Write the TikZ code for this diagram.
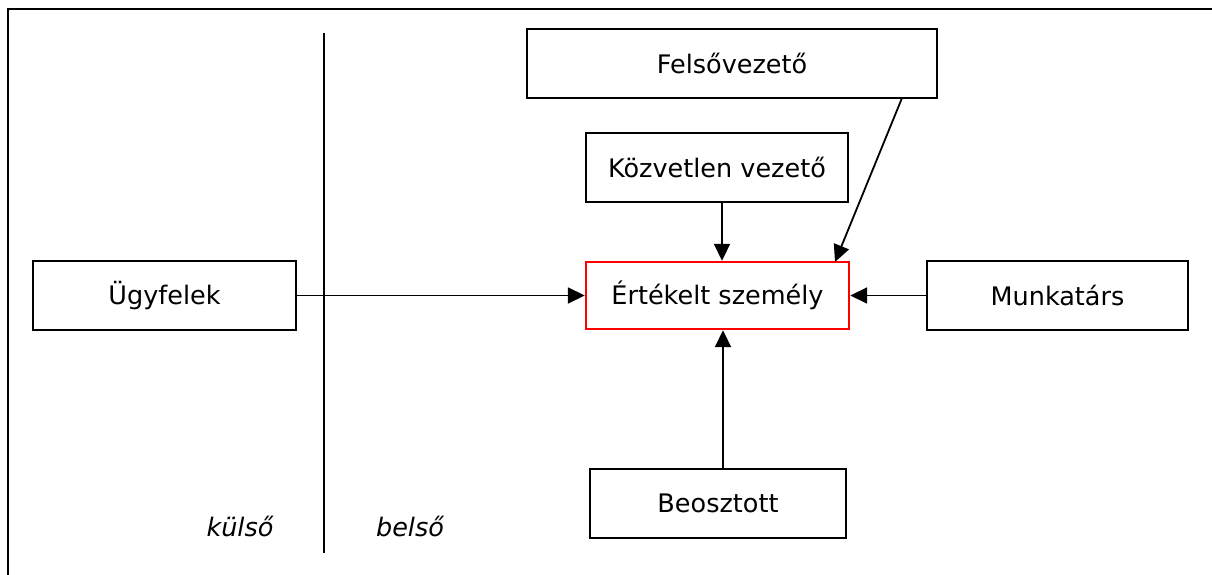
\documentclass[tikz,border=0pt]{standalone}
\usepackage{fontspec}
\setmainfont{DejaVu Sans}
\usetikzlibrary{arrows.meta}
\begin{document}
\begin{tikzpicture}[x=1pt,y=-1pt,
  box/.style={draw=black,line width=2.4pt,minimum height=69pt,inner sep=0pt,
    font=\fontsize{25.5}{30}\selectfont},
  focus/.style={box,draw=red},
  link/.style={line width=1.8pt,-{Triangle[length=17pt,width=16pt]}},
  side/.style={font=\fontsize{25.5}{30}\selectfont\itshape}]
\useasboundingbox (0,0) rectangle (1212,575);
% outer frame (only top and left edges fall inside the page)
\draw[line width=2.4pt] (8,590) -- (8,9) -- (1230,9);
% boundary between external and internal raters
\coordinate (divtop) at (324,33);
\coordinate (divbot) at (324,553);
\draw[line width=2pt] (divtop) -- (divbot);
% boxes
\node[box,minimum width=410pt] (felso) at (732,63.5) {Felsővezető};
\node[box,minimum width=262pt] (kozv) at (717,167.5) {Közvetlen vezető};
\node[focus,minimum width=263pt,minimum height=67pt] (ert) at (717.5,295.5) {Értékelt személy};
\node[box,minimum width=261pt] (munka) at (1057.5,295.5) {Munkatárs};
\node[box,minimum width=263pt] (ugyf) at (164.5,295.5) {Ügyfelek};
\node[box,minimum width=256pt] (beo) at (718,503.5) {Beosztott};
% side labels
\node[side] (kulso) at (240,526) {külső};
\node[side] (belso) at (410,526) {belső};
% connectors
\draw[link] (kozv.south -| 722,0) -- (ert.north -| 722,0);
\draw[link] (beo.north -| 723,0) -- (ert.south -| 723,0);
\draw[link] (munka.west) -- (ert.east);
\draw[link] (ugyf.east) -- (ert.west);
\coordinate (fs) at (902,98);
\coordinate (fe) at (835,262);
\draw[link] (fs) -- (fe);
\end{tikzpicture}
\end{document}
